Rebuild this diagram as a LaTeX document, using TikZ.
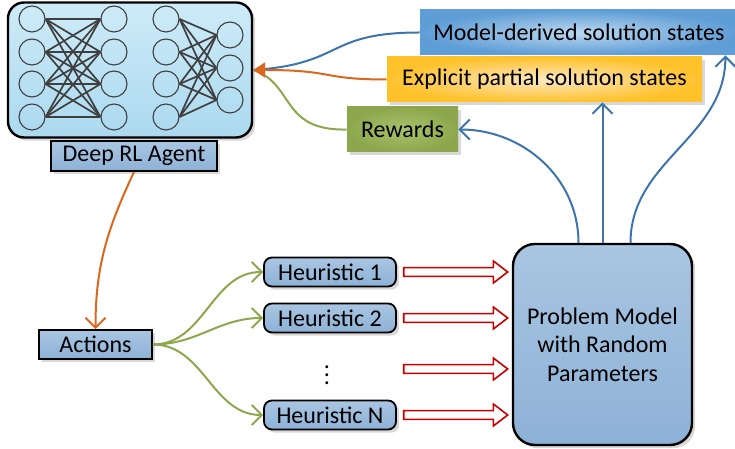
\documentclass[tikz,border=0pt]{standalone}
\usepackage{fontspec}
\setmainfont{Carlito}
\usepackage{tikz}
\usetikzlibrary{positioning,arrows.meta,shapes.arrows,shadows}

\definecolor{netgray}{HTML}{3F3F3F}
\definecolor{agenttop}{HTML}{CDEBF8}
\definecolor{agentbot}{HTML}{ABD9EF}
\definecolor{boxtop}{HTML}{A9C6E2}
\definecolor{boxbot}{HTML}{8DB1D6}
\definecolor{mdin}{HTML}{BCD8EF}
\definecolor{mdout}{HTML}{5E9DD6}
\definecolor{exin}{HTML}{FCE8C4}
\definecolor{exout}{HTML}{FFC22B}
\definecolor{rwin}{HTML}{A9C26E}
\definecolor{rwout}{HTML}{8CA74B}
\definecolor{linkblue}{HTML}{3E74AC}
\definecolor{linkorange}{HTML}{DA671D}
\definecolor{linkgreen}{HTML}{8FA74C}
\definecolor{arrowred}{HTML}{C80000}

\begin{document}
\begin{tikzpicture}[
    x=0.5pt, y=0.5pt, font=\fontsize{12}{14.25}\selectfont,
    neuron/.style={circle, draw=netgray, line width=0.55pt,
      minimum size=13pt, inner sep=0pt},
    synapse/.style={draw=netgray, line width=0.85pt},
    softshadow/.style={drop shadow={shadow xshift=1.6pt,
      shadow yshift=-1.6pt, fill=black!22, opacity=0.7}},
    tagbox/.style={draw=black, line width=0.9pt, top color=boxtop,
      bottom color=boxbot, minimum height=14.5pt, inner sep=2pt,
      softshadow},
    heur/.style={tagbox, rounded corners=4pt, minimum width=66pt},
    statebox/.style={minimum height=22.5pt, inner sep=2pt},
    blockarrow/.style={single arrow, draw=arrowred, fill=white,
      line width=0.8pt, minimum height=52pt, inner sep=1.8pt,
      single arrow head extend=3.3pt, single arrow tip angle=75},
    bluelink/.style={line width=1pt, draw=linkblue},
    orangelink/.style={line width=1pt, draw=linkorange},
    greenlink/.style={line width=1pt, draw=linkgreen},
    barb/.style={-{Straight Barb[length=5pt, width=10pt]}}
]
\useasboundingbox (0,0) rectangle (735,449);
\node[draw=black, line width=1.2pt, rounded corners=8pt,
  minimum width=122pt, minimum height=67.5pt,
  top color=agenttop, bottom color=agentbot, softshadow] (agent) at (130,379) {};
\foreach \i/\y in {1/430,2/397,3/365,4/332}{
  \node[neuron] (a\i) at (32,\y) {};
  \node[neuron] (b\i) at (114,\y) {};
  \node[neuron] (c\i) at (166,\y) {};
}
\foreach \j/\y in {1/414,2/381,3/349}
  \node[neuron] (d\j) at (230,\y) {};
\foreach \i in {1,...,4}{
  \foreach \k in {1,...,4} \draw[synapse] (a\i.east) -- (b\k.west);
  \foreach \j in {1,...,3} \draw[synapse] (c\i.east) -- (d\j.west);
}
\node[tagbox, minimum width=83pt, minimum height=15pt] (agentname)
  at (134,293) {Deep RL Agent};

\node[statebox, minimum width=159pt, inner color=mdin, outer color=mdout]
  (md) at (579,416.5) {Model-derived solution states};
\node[statebox, minimum width=157.5pt, inner color=exin, outer color=exout,
  softshadow] (ex) at (544.5,369.5) {Explicit partial solution states};
\node[statebox, minimum width=55.5pt, inner color=rwin, outer color=rwout,
  softshadow] (rw) at (402.5,319.5) {Rewards};

\node[tagbox, minimum width=56.5pt] (actions) at (95.5,104.5) {Actions};
\node[heur] (h1) at (330,177) {Heuristic 1};
\node[heur] (h2) at (330,131) {Heuristic 2};
\node (dots) at (327,80) {$\vdots$};
\node[heur] (hn) at (330,34) {Heuristic N};
\node[draw=black, line width=1.2pt, rounded corners=11pt,
  minimum width=89.5pt, minimum height=100.5pt, align=center,
  top color=boxtop, bottom color=boxbot, softshadow] (pm)
  at (602.5,104.5) {Problem Model\\with Random\\Parameters};

\node[blockarrow, right=3pt of h1] (r1) {};
\node[blockarrow, right=3pt of h2] (r2) {};
\node[blockarrow, anchor=west] (r3) at (r1.west |- dots) {};
\node[blockarrow, right=3pt of hn] (rn) {};

\draw[bluelink] (md.west) .. controls (325,416.5) and (345,385) .. (agent.east);
\draw[greenlink] (rw.west) .. controls (280,318) and (295,365) .. (agent.east);
\draw[orangelink, -{Triangle[length=6pt, width=7.5pt]}]
  (ex.west) .. controls (320,369.5) and (335,379) .. (agent.east);
\draw[orangelink, barb] (agentname.south) to[out=-115, in=90] (actions.north);
\foreach \h in {h1,h2,hn}
  \draw[greenlink, barb] (actions.east) to[out=0, in=180] (\h.west);
\draw[bluelink, barb] ([xshift=-12pt]pm.north) to[out=90, in=0] (rw.east);
\draw[bluelink, barb] (pm.north) -- (pm.north |- ex.south);
\draw[bluelink, barb] ([xshift=14pt]pm.north)
  to[out=90, in=-90] ([xshift=-6.5pt]md.south east);
\end{tikzpicture}
\end{document}
